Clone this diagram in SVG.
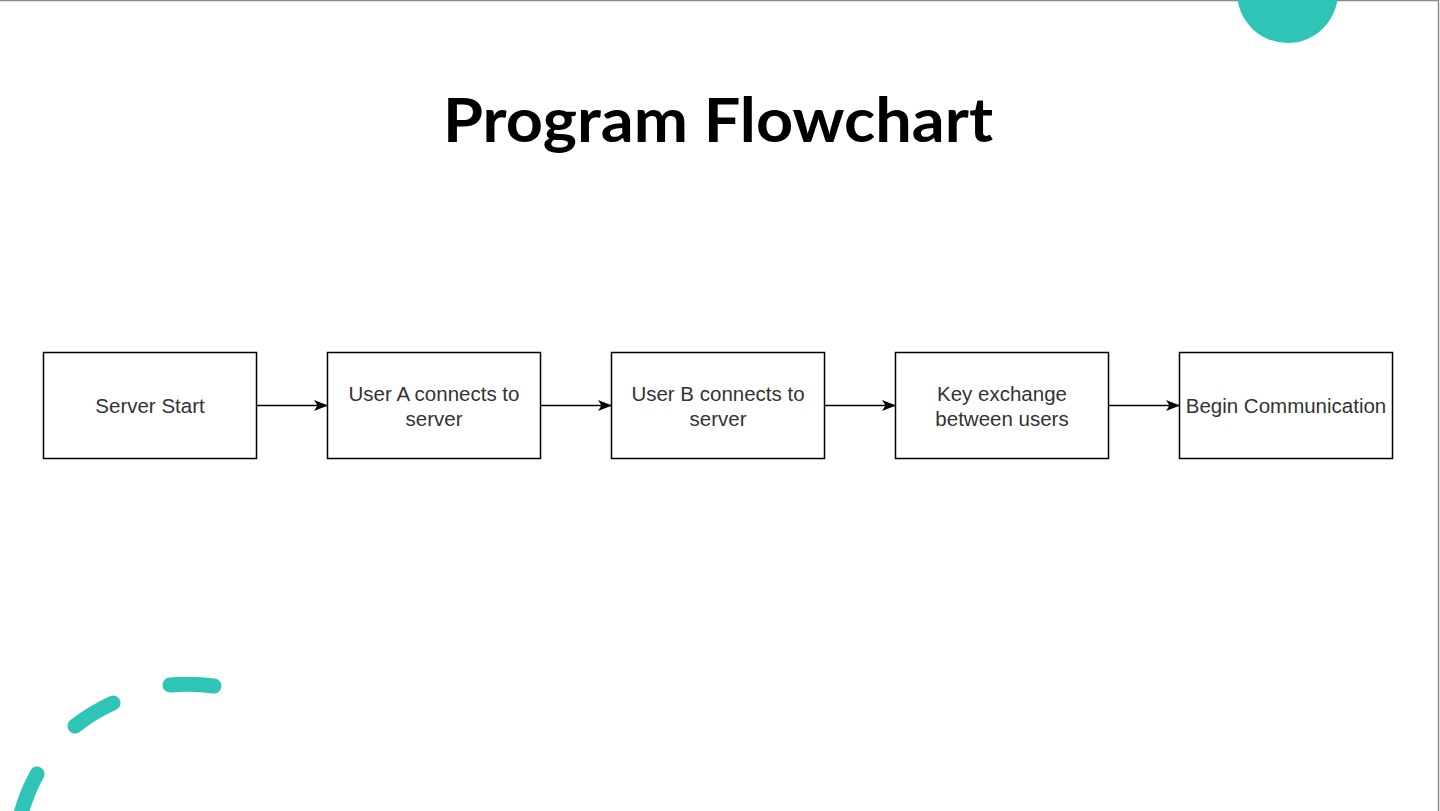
<svg xmlns="http://www.w3.org/2000/svg" width="1440" height="811" viewBox="0 0 1440 811">
<defs>
<style>
.node rect{fill:#fff;stroke:#000;stroke-width:1.5}
.node text{font-family:"Liberation Sans",Arial,sans-serif;font-size:20.5px;fill:#333;text-anchor:middle}
.edge{stroke:#000;stroke-width:1.5;fill:none}
.deco{fill:none;stroke:#2EC4B6;stroke-width:15;stroke-linecap:round}
</style>
<marker id="arr" viewBox="0 0 14 12" refX="13" refY="6" markerWidth="14" markerHeight="12" markerUnits="userSpaceOnUse" orient="auto">
<path d="M0,0.5 L14,6 L0,11.5 L3.5,6 Z" fill="#000"/>
</marker>
</defs>
<rect x="0" y="0" width="1440" height="811" fill="#fff"/>
<g id="frame">
<line x1="0" y1="0.5" x2="1439" y2="0.5" stroke="#8a8a8a" stroke-width="1.5"/>
<line x1="1438.5" y1="0" x2="1438.5" y2="811" stroke="#8a8a8a" stroke-width="1.5"/>
</g>
<g id="decoration">
<circle cx="1287.5" cy="-7.5" r="50.5" fill="#2EC4B6"/>
<path class="deco" d="M170,685 A185,185 0 0 1 214,686"/>
<path class="deco" d="M75,726 A185,185 0 0 1 113,703"/>
<path class="deco" d="M19,822 A185,185 0 0 1 37,774"/>
</g>
<g id="title">
<text x="718" y="142" font-family="Lato,'Open Sans',sans-serif" font-weight="bold" font-size="62" text-anchor="middle" textLength="550" lengthAdjust="spacingAndGlyphs" fill="#000">Program Flowchart</text>
</g>
<g id="connectors">
<line class="edge" x1="257" y1="405.5" x2="327" y2="405.5" marker-end="url(#arr)"/>
<line class="edge" x1="541" y1="405.5" x2="611" y2="405.5" marker-end="url(#arr)"/>
<line class="edge" x1="825" y1="405.5" x2="895" y2="405.5" marker-end="url(#arr)"/>
<line class="edge" x1="1109" y1="405.5" x2="1179" y2="405.5" marker-end="url(#arr)"/>
</g>
<g id="n1" class="node">
<rect x="43.5" y="352.5" width="213" height="106"/>
<text x="150" y="413">Server Start</text>
</g>
<g id="n2" class="node">
<rect x="327.5" y="352.5" width="213" height="106"/>
<text x="434" y="401">User A connects to</text>
<text x="434" y="426">server</text>
</g>
<g id="n3" class="node">
<rect x="611.5" y="352.5" width="213" height="106"/>
<text x="718" y="401">User B connects to</text>
<text x="718" y="426">server</text>
</g>
<g id="n4" class="node">
<rect x="895.5" y="352.5" width="213" height="106"/>
<text x="1002" y="401">Key exchange</text>
<text x="1002" y="426">between users</text>
</g>
<g id="n5" class="node">
<rect x="1179.5" y="352.5" width="213" height="106"/>
<text x="1286" y="413">Begin Communication</text>
</g>
</svg>
